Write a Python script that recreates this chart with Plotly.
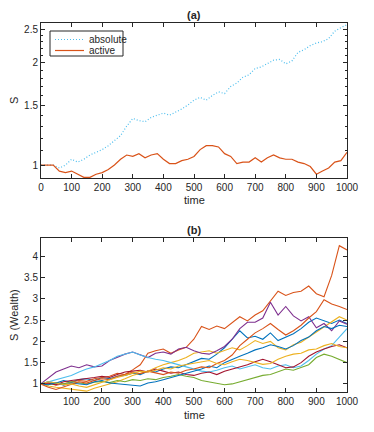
import plotly.graph_objects as go

# (a) absolute vs active wealth, sampled every 20 steps
t_a = list(range(0, 1001, 20))
absolute = [1.00, 1.00, 1.00, 0.98, 1.00, 1.04, 1.02, 1.04, 1.07, 1.09,
            1.11, 1.14, 1.18, 1.22, 1.30, 1.37, 1.35, 1.34, 1.38, 1.40,
            1.42, 1.40, 1.43, 1.46, 1.50, 1.55, 1.58, 1.55, 1.60, 1.64,
            1.62, 1.70, 1.74, 1.81, 1.84, 1.92, 1.94, 1.99, 2.03, 2.04,
            1.98, 2.02, 2.14, 2.18, 2.24, 2.28, 2.30, 2.35, 2.47, 2.53, 2.58]
active = [1.00, 1.00, 1.00, 0.96, 0.95, 0.96, 0.94, 0.92, 0.92, 0.94,
          0.95, 0.97, 1.00, 1.04, 1.07, 1.06, 1.08, 1.05, 1.07, 1.08,
          1.04, 1.01, 1.01, 1.03, 1.04, 1.06, 1.11, 1.14, 1.14, 1.13,
          1.08, 1.06, 1.01, 1.02, 1.02, 1.05, 1.02, 1.05, 1.07, 1.05,
          1.04, 1.04, 1.02, 1.01, 0.99, 0.94, 0.96, 0.98, 1.02, 1.03, 1.09]
legend_names = ["absolute", "active"]

# (b) wealth paths, sampled every 25 steps
t_b = list(range(0, 1001, 25))
blue1 = [1.00, 1.05, 1.02, 1.08, 1.04, 1.10, 1.12, 1.08, 1.15, 1.12, 1.18, 1.20, 1.25, 1.22,
         1.30, 1.28, 1.35, 1.40, 1.38, 1.45, 1.52, 1.60, 1.58, 1.70, 1.85, 2.05, 2.25, 2.08,
         2.12, 2.05, 2.20, 2.02, 2.10, 2.18, 2.30, 2.45, 2.55, 2.48, 2.42, 2.50, 2.42]
orange1 = [1.00, 1.02, 0.97, 1.01, 1.05, 1.08, 1.06, 1.12, 1.15, 1.18, 1.25, 1.22, 1.33, 1.45,
           1.72, 1.78, 1.82, 1.72, 1.80, 1.86, 2.05, 2.35, 2.28, 2.36, 2.30, 2.45, 2.58, 2.48,
           2.62, 2.72, 2.95, 3.18, 3.08, 3.15, 3.18, 3.30, 3.12, 3.05, 3.55, 4.25, 4.15]
yellow1 = [1.00, 0.95, 0.92, 0.90, 0.88, 0.86, 0.83, 0.90, 0.95, 1.00, 1.05, 1.12, 1.20, 1.25,
           1.30, 1.38, 1.45, 1.50, 1.55, 1.62, 1.72, 1.75, 1.78, 1.72, 1.78, 1.85, 1.80, 1.90,
           2.02, 1.95, 2.00, 1.85, 1.80, 1.92, 1.98, 2.10, 2.22, 2.35, 2.45, 2.58, 2.50]
purple = [1.00, 1.15, 1.28, 1.35, 1.42, 1.38, 1.45, 1.40, 1.42, 1.55, 1.62, 1.70, 1.75, 1.68,
          1.62, 1.72, 1.75, 1.70, 1.82, 1.86, 1.78, 1.72, 1.70, 1.78, 1.88, 2.05, 2.30, 2.45,
          2.45, 2.55, 2.92, 2.62, 2.82, 2.60, 2.48, 2.58, 2.32, 2.42, 2.25, 2.48, 2.40]
green = [1.00, 0.98, 1.02, 1.00, 1.05, 1.02, 1.00, 1.04, 1.06, 1.03, 1.08, 1.05, 1.10, 1.08,
         1.12, 1.10, 1.15, 1.18, 1.22, 1.18, 1.15, 1.08, 1.05, 1.02, 0.98, 1.00, 1.05, 1.10,
         1.15, 1.20, 1.22, 1.28, 1.35, 1.32, 1.38, 1.45, 1.62, 1.70, 1.65, 1.58, 1.50]
lightblue = [1.00, 1.05, 1.10, 1.15, 1.20, 1.28, 1.35, 1.40, 1.48, 1.55, 1.65, 1.70, 1.75, 1.68,
             1.62, 1.58, 1.55, 1.50, 1.45, 1.40, 1.35, 1.30, 1.28, 1.32, 1.38, 1.42, 1.35, 1.40,
             1.45, 1.38, 1.35, 1.42, 1.45, 1.38, 1.42, 1.55, 1.70, 1.82, 1.90, 2.10, 2.30]
darkred = [1.00, 1.02, 0.98, 1.05, 1.08, 1.10, 1.12, 1.15, 1.18, 1.15, 1.22, 1.28, 1.30, 1.32,
           1.28, 1.35, 1.30, 1.25, 1.28, 1.22, 1.20, 1.25, 1.28, 1.22, 1.30, 1.35, 1.40, 1.45,
           1.52, 1.58, 1.52, 1.45, 1.38, 1.40, 1.50, 1.65, 1.75, 1.82, 1.88, 1.92, 1.85]
blue2 = [1.00, 0.98, 1.03, 0.97, 1.02, 1.00, 0.98, 1.05, 1.08, 1.02, 1.00, 0.98, 0.96, 0.95,
         1.02, 1.05, 1.10, 1.15, 1.20, 1.25, 1.30, 1.35, 1.42, 1.38, 1.50, 1.58, 1.65, 1.72,
         1.80, 1.85, 1.92, 1.88, 1.82, 1.90, 2.02, 2.10, 2.25, 2.35, 2.30, 2.38, 2.35]
orange2 = [1.00, 0.92, 0.87, 0.93, 1.00, 1.05, 1.02, 1.08, 1.12, 1.10, 1.18, 1.22, 1.28, 1.24,
           1.30, 1.26, 1.22, 1.28, 1.25, 1.32, 1.35, 1.40, 1.38, 1.48, 1.55, 1.68, 1.90, 2.05,
           2.20, 2.30, 2.42, 2.28, 2.15, 2.25, 2.38, 2.55, 2.70, 2.98, 2.88, 2.82, 2.75]
yellow2 = [1.00, 1.05, 1.02, 0.98, 1.00, 0.95, 0.92, 0.98, 1.05, 1.10, 1.15, 1.20, 1.25, 1.30,
           1.28, 1.32, 1.38, 1.35, 1.42, 1.45, 1.48, 1.52, 1.55, 1.48, 1.45, 1.52, 1.58, 1.55,
           1.50, 1.46, 1.48, 1.58, 1.65, 1.70, 1.72, 1.80, 1.82, 1.90, 1.95, 1.88, 1.85]

paths = [blue1, orange1, yellow1, purple, green, lightblue, darkred, blue2, orange2, yellow2]
colors = ["#0072BD", "#D95319", "#EDB120", "#7E2F8E", "#77AC30",
          "#4DBEEE", "#A2142F", "#0072BD", "#D95319", "#EDB120"]

W, H = 374, 432
ink = "#262626"
font = "Liberation Sans, Arial, sans-serif"
abs_line = dict(color="#4DBEEE", width=1.2, dash="1px,2px")
act_line = dict(color="#D95319", width=1.2)

fig = go.Figure()
fig.add_trace(go.Scatter(x=t_a, y=absolute, name=legend_names[0], mode="lines",
                         line=abs_line, xaxis="x", yaxis="y"))
fig.add_trace(go.Scatter(x=t_a, y=active, name=legend_names[1], mode="lines",
                         line=act_line, xaxis="x", yaxis="y"))
for p, c in zip(paths, colors):
    fig.add_trace(go.Scatter(x=t_b, y=p, mode="lines",
                             line=dict(color=c, width=1.1),
                             xaxis="x2", yaxis="y2"))

ax = dict(showline=True, linecolor=ink, linewidth=1, mirror="ticks", automargin=False,
          ticks="inside", ticklen=4, tickcolor=ink, showgrid=False, zeroline=False,
          tickfont=dict(size=10, color=ink, family=font))


def px(x, y):
    # pixel spot of the page -> paper fraction (margins are zero)
    return x / W, 1 - y / H


fig.update_layout(
    width=W, height=H, showlegend=False,
    margin=dict(l=0, r=0, t=0, b=0, pad=0),
    paper_bgcolor="white", plot_bgcolor="white",
    font=dict(family=font, color=ink),
    xaxis=dict(ax, domain=[41 / W, 347 / W], range=[0, 1000], dtick=100, anchor="y"),
    yaxis=dict(ax, domain=[1 - 178 / H, 1 - 23 / H], type="log",
               range=[-0.038, 0.4166], tickvals=[1, 1.5, 2, 2.5],
               ticktext=["1", "1.5", "2", "2.5"], anchor="x",
               minor=dict(ticks="inside", ticklen=2, tickcolor=ink,
                          tickvals=[1.1, 1.2, 1.3, 1.4, 1.6, 1.7, 1.8, 1.9,
                                    2.1, 2.2, 2.3, 2.4])),
    xaxis2=dict(ax, domain=[41 / W, 347 / W], range=[1, 1000],
                tickvals=list(range(100, 1001, 100)), anchor="y2"),
    yaxis2=dict(ax, domain=[1 - 392 / H, 1 - 238 / H], range=[0.81, 4.43],
                tickvals=[1, 1.5, 2, 2.5, 3, 3.5, 4], anchor="x2"),
)

labels = [("<b>(a)</b>", 194, 15, 0), ("<b>(b)</b>", 194, 230, 0),
          ("time", 194, 200, 0), ("time", 194, 415, 0),
          ("S", 14, 100, -90), ("S (Wealth)", 14, 315, -90)]
for text, x, y, ang in labels:
    xp, yp = px(x, y)
    fig.add_annotation(text=text, x=xp, y=yp, xref="paper", yref="paper",
                       xanchor="center", yanchor="middle",
                       showarrow=False, textangle=ang,
                       font=dict(size=11, color=ink, family=font))

# legend box drawn by hand, MATLAB style
x0, y0 = px(50, 31)
x1, y1 = px(123, 56)
fig.add_shape(type="rect", xref="paper", yref="paper", x0=x0, y0=y0, x1=x1, y1=y1,
              line=dict(color=ink, width=1), fillcolor="white", layer="above")
for (row_y, name, style) in [(39.5, legend_names[0], abs_line), (50.5, legend_names[1], act_line)]:
    lx0, ly = px(55, row_y)
    lx1, _ = px(84, row_y)
    fig.add_shape(type="line", xref="paper", yref="paper", x0=lx0, y0=ly, x1=lx1, y1=ly,
                  line=style, layer="above")
    tx, _ = px(87, row_y)
    fig.add_annotation(text=name, x=tx, y=ly, xref="paper", yref="paper",
                       xanchor="left", yanchor="middle", showarrow=False,
                       font=dict(size=10, color=ink, family=font))

fig.write_html("out.html", config={"displayModeBar": False},
               post_script="document.body.style.margin='0';")
